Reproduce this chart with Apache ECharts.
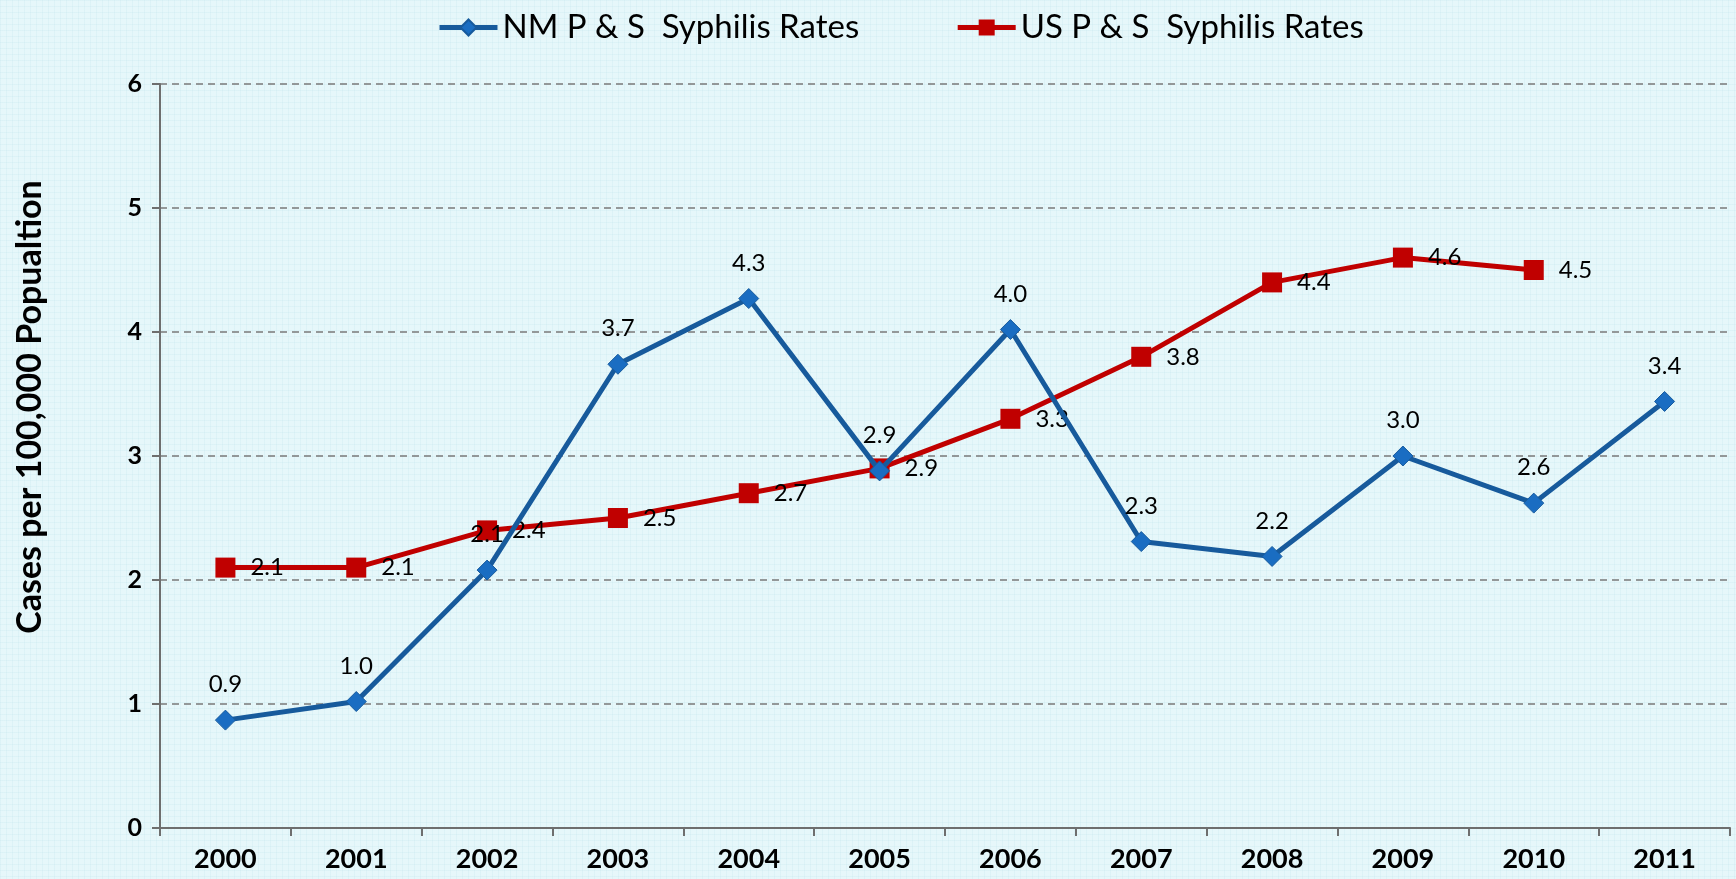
<!DOCTYPE html>
<html>
<head>
<meta charset="utf-8">
<script src="https://cdn.jsdelivr.net/npm/echarts@6/dist/echarts.min.js"></script>
<style>
  html, body { margin: 0; padding: 0; }
  body {
    background-color: #e6f7fa;
    background-image:
      linear-gradient(rgba(190, 225, 235, 0.22) 1px, transparent 1px),
      linear-gradient(90deg, rgba(190, 225, 235, 0.22) 1px, transparent 1px);
    background-size: 6px 6px;
  }
  #chart { width: 1736px; height: 879px; }
</style>
</head>
<body>
<div id="chart"></div>
<script>
const years = ['2000', '2001', '2002', '2003', '2004', '2005', '2006', '2007', '2008', '2009', '2010', '2011'];
const nmRates = [0.87, 1.02, 2.08, 3.74, 4.27, 2.88, 4.02, 2.31, 2.19, 3.0, 2.62, 3.44];
const usRates = [2.1, 2.1, 2.4, 2.5, 2.7, 2.9, 3.3, 3.8, 4.4, 4.6, 4.5, null];
const yTicks = [0, 1, 2, 3, 4, 5, 6];

const font = 'Lato, "Open Sans", sans-serif';

const chart = echarts.init(document.getElementById('chart'));
chart.setOption({
    backgroundColor: 'transparent',
    textStyle: { fontFamily: font },
    legend: {
        top: 6,
        left: 432,
        itemWidth: 58,
        itemHeight: 20,
        itemGap: 96,
        lineStyle: { width: 5 },
        textStyle: { fontSize: 33, color: '#000', fontFamily: font },
        data: ['NM P & S  Syphilis Rates', 'US P & S  Syphilis Rates']
    },
    graphic: [{
        type: 'text',
        x: 30,
        y: 407,
        rotation: Math.PI / 2,
        style: {
            text: 'Cases per 100,000 Popualtion',
            fontSize: 34,
            fontWeight: 'bold',
            fontFamily: font,
            fill: '#000',
            textAlign: 'center',
            textVerticalAlign: 'middle'
        }
    }],
    grid: { left: 160, right: 6, top: 84, bottom: 51, containLabel: false },
    xAxis: {
        type: 'category',
        data: years,
        boundaryGap: true,
        axisLine: { lineStyle: { color: '#6e6e6e', width: 2 } },
        axisTick: { show: true, length: 8, lineStyle: { color: '#6e6e6e', width: 2 } },
        axisLabel: { fontSize: 27, fontWeight: 'bold', color: '#000', margin: 18 }
    },
    yAxis: {
        type: 'value',
        min: yTicks[0],
        max: yTicks[yTicks.length - 1],
        interval: 1,
        axisLine: { show: true, lineStyle: { color: '#6e6e6e', width: 2 } },
        axisTick: { show: true, inside: false, length: 8, lineStyle: { color: '#6e6e6e', width: 2 } },
        axisLabel: { fontSize: 25, fontWeight: 'bold', color: '#000', margin: 18 },
        splitLine: { show: true, lineStyle: { color: '#7a7a7a', width: 1.5, type: [7, 5] } }
    },
    series: [{
        name: 'NM P & S  Syphilis Rates',
        type: 'line',
        data: nmRates,
        symbol: 'diamond',
        symbolSize: 20,
        lineStyle: { color: '#175a9c', width: 5 },
        itemStyle: { color: '#1a6dc2', borderColor: '#175a9c', borderWidth: 1 },
        label: {
            show: true,
            position: 'top',
            distance: 13,
            fontSize: 24,
            color: '#000',
            formatter: p => p.value.toFixed(1)
        },
        z: 3
    }, {
        name: 'US P & S  Syphilis Rates',
        type: 'line',
        data: usRates,
        symbol: 'rect',
        symbolSize: 20,
        lineStyle: { color: '#c00000', width: 5 },
        itemStyle: { color: '#c00000' },
        label: {
            show: true,
            position: 'right',
            distance: 15,
            fontSize: 24,
            color: '#000',
            formatter: p => p.value.toFixed(1)
        },
        z: 2
    }]
});
</script>
</body>
</html>
